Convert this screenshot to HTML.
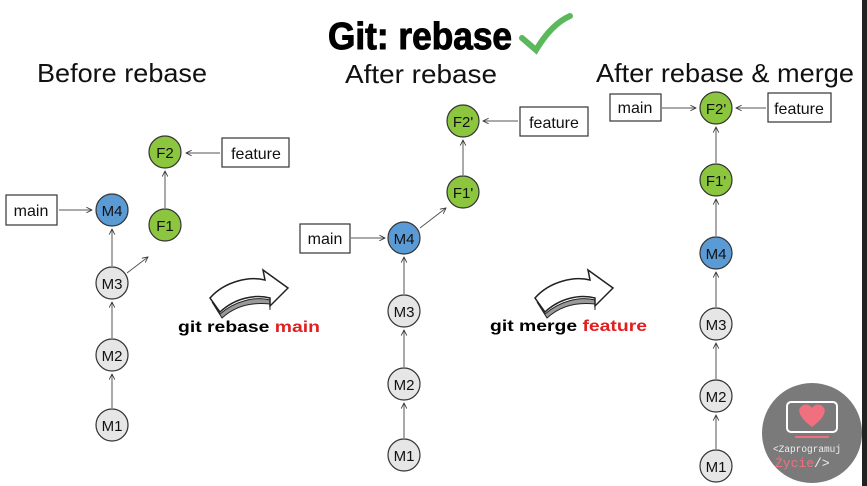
<!DOCTYPE html>
<html><head><meta charset="utf-8"><style>
html,body{margin:0;padding:0;background:#fff;width:867px;height:486px;overflow:hidden}
svg{display:block}
text{font-family:"Liberation Sans",sans-serif}
text.mono{font-family:"Liberation Mono",monospace}
</style></head><body>
<svg width="867" height="486" viewBox="0 0 867 486" xmlns="http://www.w3.org/2000/svg">
<defs>
<marker id="a" viewBox="0 0 10 10" refX="9" refY="5" markerWidth="7" markerHeight="7" orient="auto"><path d="M1,1 L9,5 L1,9" fill="none" stroke="#333" stroke-width="1.2"/></marker>
<g id="arr">
<path d="M2,26 L12,42 C25,30 42,26 60,28 L60,34 L60,24 C45,20 25,25 10,38 Z" fill="#999" stroke="#222" stroke-width="1"/>
<path d="M0,22 C15,5 40,0 55,4 L53,-6 L78,12 L60,30 L60,22 C45,18 25,22 10,36 Z" fill="#fff" stroke="#222" stroke-width="1.5"/>
</g>
</defs>
<rect x="862" y="0" width="5" height="486" fill="#222"/>
<text x="328" y="49" font-size="38" font-weight="bold" stroke="#000" stroke-width="1" textLength="184" lengthAdjust="spacingAndGlyphs">Git: rebase</text>
<path d="M522,38 L536,50 C545,35 556,22 570,16" fill="none" stroke="#5cb85c" stroke-width="6" stroke-linecap="round"/>
<g font-size="26" fill="#111">
<text x="37" y="82" textLength="170" lengthAdjust="spacingAndGlyphs">Before rebase</text>
<text x="345" y="83" textLength="152" lengthAdjust="spacingAndGlyphs">After rebase</text>
<text x="596" y="82" textLength="258" lengthAdjust="spacingAndGlyphs">After rebase &amp; merge</text>
</g>
<g stroke="#555" stroke-width="1" marker-end="url(#a)" fill="none">
<line x1="112" y1="408" x2="112" y2="374"/><line x1="112" y1="338" x2="112" y2="302"/><line x1="112" y1="266" x2="112" y2="229"/>
<line x1="127" y1="273" x2="148" y2="257"/><line x1="165" y1="208" x2="165" y2="171"/>
<line x1="59" y1="210" x2="92" y2="210"/><line x1="220" y1="153" x2="186" y2="153"/>
<line x1="404" y1="438" x2="404" y2="403"/><line x1="404" y1="367" x2="404" y2="330"/><line x1="404" y1="294" x2="404" y2="257"/>
<line x1="420" y1="228" x2="446" y2="208"/><line x1="463" y1="175" x2="463" y2="140"/>
<line x1="351" y1="238" x2="385" y2="238"/><line x1="518" y1="121" x2="483" y2="121"/>
<line x1="716" y1="449" x2="716" y2="415"/><line x1="716" y1="379" x2="716" y2="343"/><line x1="716" y1="307" x2="716" y2="272"/><line x1="716" y1="236" x2="716" y2="199"/><line x1="716" y1="163" x2="716" y2="127"/>
<line x1="662" y1="108" x2="696" y2="108"/><line x1="766" y1="108" x2="736" y2="108"/>
</g>
<g stroke="#333" stroke-width="1.2" fill="#fff">
<rect x="6" y="195" width="51" height="30"/><rect x="222" y="138" width="67" height="29"/>
<rect x="300" y="224" width="50" height="29"/><rect x="520" y="107" width="68" height="29"/>
<rect x="610" y="94" width="51" height="27"/><rect x="768" y="93" width="63" height="29"/>
</g>
<g font-size="16" fill="#111" text-anchor="middle">
<text x="31" y="216">main</text><text x="256" y="159">feature</text>
<text x="325" y="244">main</text><text x="554" y="128">feature</text>
<text x="635" y="113">main</text><text x="799" y="114">feature</text>
</g>
<g stroke="#333" stroke-width="1.2">
<circle cx="165" cy="152" r="16" fill="#8cc63f"/><circle cx="112" cy="210" r="16" fill="#5b9bd5"/><circle cx="165" cy="225" r="16" fill="#8cc63f"/>
<circle cx="112" cy="283" r="16" fill="#e6e6e6"/><circle cx="112" cy="355" r="16" fill="#e6e6e6"/><circle cx="112" cy="425" r="16" fill="#e6e6e6"/>
<circle cx="463" cy="121" r="16" fill="#8cc63f"/><circle cx="463" cy="192" r="16" fill="#8cc63f"/><circle cx="404" cy="238" r="16" fill="#5b9bd5"/>
<circle cx="404" cy="311" r="16" fill="#e6e6e6"/><circle cx="404" cy="384" r="16" fill="#e6e6e6"/><circle cx="404" cy="455" r="16" fill="#e6e6e6"/>
<circle cx="716" cy="108" r="16" fill="#8cc63f"/><circle cx="716" cy="180" r="16" fill="#8cc63f"/><circle cx="716" cy="253" r="16" fill="#5b9bd5"/>
<circle cx="716" cy="324" r="16" fill="#e6e6e6"/><circle cx="716" cy="396" r="16" fill="#e6e6e6"/><circle cx="716" cy="466" r="16" fill="#e6e6e6"/>
</g>
<g font-size="15" fill="#111" text-anchor="middle">
<text x="165" y="158">F2</text><text x="112" y="216">M4</text><text x="165" y="231">F1</text>
<text x="112" y="289">M3</text><text x="112" y="361">M2</text><text x="112" y="431">M1</text>
<text x="463" y="127">F2'</text><text x="463" y="198">F1'</text><text x="404" y="244">M4</text>
<text x="404" y="317">M3</text><text x="404" y="390">M2</text><text x="404" y="461">M1</text>
<text x="716" y="114">F2'</text><text x="716" y="186">F1'</text><text x="716" y="259">M4</text>
<text x="716" y="330">M3</text><text x="716" y="402">M2</text><text x="716" y="472">M1</text>
</g>
<use href="#arr" x="210" y="276"/>
<use href="#arr" x="535" y="276"/>
<text x="178" y="332" font-size="16" font-weight="bold" textLength="142" lengthAdjust="spacingAndGlyphs">git rebase <tspan fill="#e02020">main</tspan></text>
<text x="490" y="331" font-size="16" font-weight="bold" textLength="157" lengthAdjust="spacingAndGlyphs">git merge <tspan fill="#e02020">feature</tspan></text>
<circle cx="812" cy="433" r="50" fill="#7a7a7a"/>
<rect x="787" y="402" width="50" height="30" rx="4" fill="none" stroke="#fff" stroke-width="2"/>
<path d="M812,427 C800,418 796,410 802,406 C806,403 810,405 812,408 C814,405 818,403 822,406 C828,410 824,418 812,427 Z" fill="#f07080"/>
<rect x="795" y="436" width="34" height="2" fill="#f07080"/>
<text class="mono" x="773" y="452" font-size="10" fill="#eee" textLength="68" lengthAdjust="spacingAndGlyphs">&lt;Zaprogramuj</text>
<text class="mono" x="775" y="467" font-size="13" fill="#f07080">Życie<tspan fill="#eee">/&gt;</tspan></text>
</svg>
</body></html>
